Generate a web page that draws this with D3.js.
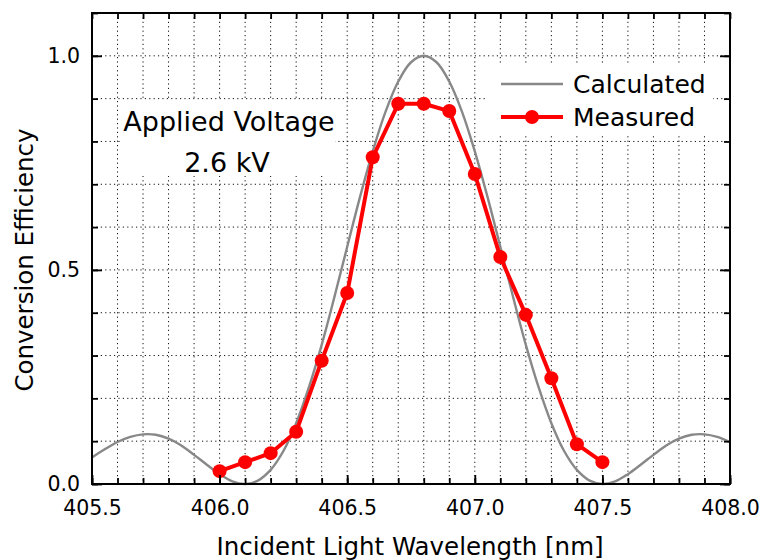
<!DOCTYPE html>
<html>
<head>
<meta charset="utf-8">
<script src="https://cdn.jsdelivr.net/npm/d3@7"></script>
<style>
  html, body { margin: 0; padding: 0; background: #fff; }
  svg { display: block; }
  text { font-family: "DejaVu Sans", sans-serif; fill: #000; }
</style>
</head>
<body>
<svg id="chart" width="761" height="560"></svg>
<script>
// Measured conversion efficiency vs. incident wavelength (nm)
const measuredWavelength = [406.0, 406.1, 406.2, 406.3, 406.4, 406.5, 406.6, 406.7,
                            406.8, 406.9, 407.0, 407.1, 407.2, 407.3, 407.4, 407.5];
const measuredEfficiency = [0.030, 0.051, 0.072, 0.122, 0.288, 0.446, 0.763, 0.888,
                            0.888, 0.871, 0.724, 0.530, 0.395, 0.247, 0.093, 0.051];

// Calculated curve, sampled every 0.05 nm from 405.50 to 408.00
const calculatedStart = 405.5;
const calculatedStep = 0.05;
const calculatedEfficiency = [
  0.062, 0.081, 0.098, 0.110, 0.116, 0.115, 0.106, 0.090, 0.068, 0.045,
  0.023, 0.006, 0.000, 0.008, 0.033, 0.077, 0.142, 0.226, 0.325, 0.437,
  0.554, 0.670, 0.777, 0.869, 0.940, 0.985, 1.000, 0.985, 0.940, 0.869,
  0.777, 0.670, 0.554, 0.437, 0.325, 0.226, 0.142, 0.077, 0.033, 0.008,
  0.000, 0.006, 0.023, 0.045, 0.068, 0.090, 0.106, 0.115, 0.116, 0.110,
  0.098
];

const xMajorTicks = [405.5, 406.0, 406.5, 407.0, 407.5, 408.0];
const yMajorTicks = [0.0, 0.5, 1.0];
const legendLabels = ["Calculated", "Measured"];
const noteLines = ["Applied Voltage", "2.6 kV"];
const xTitle = "Incident Light Wavelength [nm]";
const yTitle = "Conversion Efficiency";

const svg = d3.select("#chart");
const plotLeft = 92, plotRight = 730, plotTop = 13, plotBottom = 484;

const x = d3.scaleLinear().domain([405.5, 408.0]).range([plotLeft, plotRight]);
const y = d3.scaleLinear().domain([0, 1.1]).range([plotBottom, plotTop]);

const xMinor = d3.range(0, 26).map(i => +(405.5 + i * 0.1).toFixed(1));
const yMinor = d3.range(0, 12).map(i => +(i * 0.1).toFixed(1));

// dotted grid
const grid = svg.append("g")
  .attr("stroke", "#111").attr("stroke-width", 1)
  .attr("stroke-dasharray", "1.2,3.2");
grid.selectAll("line.gx").data(xMinor.slice(1, -1)).join("line")
  .attr("x1", d => x(d)).attr("x2", d => x(d))
  .attr("y1", plotTop).attr("y2", plotBottom);
grid.selectAll("line.gy").data(yMinor.slice(1, -1)).join("line")
  .attr("y1", d => y(d)).attr("y2", d => y(d))
  .attr("x1", plotLeft).attr("x2", plotRight);

// white panels behind the annotation and the legend
svg.append("rect").attr("x", 121).attr("y", 101).attr("width", 214).attr("height", 75).attr("fill", "#fff");
svg.append("rect").attr("x", 487).attr("y", 63).attr("width", 226).attr("height", 70).attr("fill", "#fff");

// calculated curve
const calcData = calculatedEfficiency.map((v, i) => [calculatedStart + i * calculatedStep, v]);
svg.append("path")
  .datum(calcData)
  .attr("fill", "none")
  .attr("stroke", "#888")
  .attr("stroke-width", 2.4)
  .attr("d", d3.line().x(d => x(d[0])).y(d => y(d[1])).curve(d3.curveCatmullRom));

// measured series
const measData = measuredWavelength.map((w, i) => [w, measuredEfficiency[i]]);
svg.append("path")
  .datum(measData)
  .attr("fill", "none")
  .attr("stroke", "#f00")
  .attr("stroke-width", 4)
  .attr("stroke-linejoin", "round")
  .attr("d", d3.line().x(d => x(d[0])).y(d => y(d[1])));
svg.append("g").selectAll("circle").data(measData).join("circle")
  .attr("cx", d => x(d[0])).attr("cy", d => y(d[1])).attr("r", 7)
  .attr("fill", "#f00");

// axes with inward ticks on all four sides
function styleAxis(g) {
  g.select(".domain").remove();
  g.selectAll("line").attr("stroke", "#000").attr("stroke-width", 1.8);
  g.selectAll("text").style("font-size", "20.5px").style("font-family", "DejaVu Sans");
}
const fmt = d3.format(".1f");
svg.append("g").attr("transform", `translate(0,${plotBottom})`)
  .call(d3.axisBottom(x).tickValues(xMinor).tickSize(-6).tickFormat("")).call(styleAxis);
svg.append("g").attr("transform", `translate(0,${plotBottom})`)
  .call(d3.axisBottom(x).tickValues(xMajorTicks).tickSize(-9).tickPadding(16).tickFormat(fmt)).call(styleAxis);
svg.append("g").attr("transform", `translate(0,${plotTop})`)
  .call(d3.axisTop(x).tickValues(xMinor).tickSize(-6).tickFormat("")).call(styleAxis);
svg.append("g").attr("transform", `translate(${plotLeft},0)`)
  .call(d3.axisLeft(y).tickValues(yMinor).tickSize(-6).tickFormat("")).call(styleAxis);
svg.append("g").attr("transform", `translate(${plotLeft},0)`)
  .call(d3.axisLeft(y).tickValues(yMajorTicks).tickSize(-10).tickPadding(12).tickFormat(fmt)).call(styleAxis);
svg.append("g").attr("transform", `translate(${plotRight},0)`)
  .call(d3.axisRight(y).tickValues(yMinor).tickSize(-6).tickFormat("")).call(styleAxis);
svg.append("g").attr("transform", `translate(${plotRight},0)`)
  .call(d3.axisRight(y).tickValues(yMajorTicks).tickSize(-10).tickFormat("")).call(styleAxis);

// frame
svg.append("rect")
  .attr("x", plotLeft).attr("y", plotTop)
  .attr("width", plotRight - plotLeft).attr("height", plotBottom - plotTop)
  .attr("fill", "none").attr("stroke", "#000").attr("stroke-width", 2);

// annotation
svg.append("text").attr("x", 229).attr("y", 131).attr("text-anchor", "middle")
  .style("font-size", "27px").text(noteLines[0]);
svg.append("text").attr("x", 227).attr("y", 172).attr("text-anchor", "middle")
  .style("font-size", "27px").text(noteLines[1]);

// legend
const lg = svg.append("g");
lg.append("line").attr("x1", 501).attr("x2", 563).attr("y1", 84).attr("y2", 84)
  .attr("stroke", "#888").attr("stroke-width", 2.4);
lg.append("line").attr("x1", 501).attr("x2", 563).attr("y1", 117).attr("y2", 117)
  .attr("stroke", "#f00").attr("stroke-width", 4);
lg.append("circle").attr("cx", 532).attr("cy", 117).attr("r", 7).attr("fill", "#f00");
lg.append("text").attr("x", 573).attr("y", 93).style("font-size", "25px").text(legendLabels[0]);
lg.append("text").attr("x", 573).attr("y", 126).style("font-size", "25px").text(legendLabels[1]);

// axis titles
svg.append("text").attr("x", 410).attr("y", 555).attr("text-anchor", "middle")
  .style("font-size", "24.5px").text(xTitle);
svg.append("text").attr("transform", "translate(33,260) rotate(-90)").attr("text-anchor", "middle")
  .style("font-size", "24.5px").text(yTitle);
</script>
</body>
</html>
